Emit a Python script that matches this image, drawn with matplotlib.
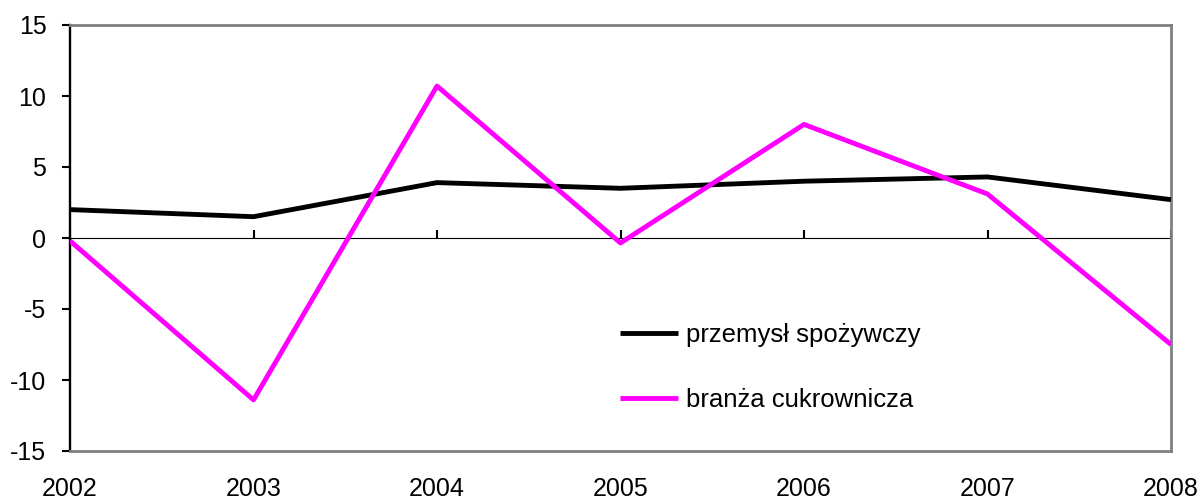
import matplotlib
matplotlib.use("Agg")
import matplotlib.pyplot as plt

years = ["2002", "2003", "2004", "2005", "2006", "2007", "2008"]
przemysl = [2.0, 1.5, 3.9, 3.5, 4.0, 4.3, 2.7]
cukrownicza = [-0.2, -11.4, 10.7, -0.35, 8.0, 3.1, -7.5]
yticks = [-15, -10, -5, 0, 5, 10, 15]

plt.rcParams['font.family'] = ['Liberation Sans', 'DejaVu Sans']

fig = plt.figure(figsize=(12.03, 5.01), dpi=100)
ax = fig.add_axes([70/1203, 50/501, 1101/1203, 426/501])
x = list(range(len(years)))

ax.plot(x, przemysl, color='black', lw=3.5, label='przemysł spożywczy', solid_capstyle='butt', zorder=3)
ax.plot(x, cukrownicza, color='#FF00FF', lw=3.5, label='branża cukrownicza', solid_capstyle='butt', zorder=3)

ax.set_xlim(0, len(years) - 1)
ax.set_ylim(-15, 15)
ax.set_yticks(yticks)
ax.set_yticklabels([str(v) for v in yticks])
ax.tick_params(axis='y', direction='out', length=6, width=1.5, color='black', labelsize=18, pad=11)

ax.set_xticks(x)
ax.set_xticklabels(years)
ax.tick_params(axis='x', length=0, labelsize=18, pad=19)

for s in ['top', 'right', 'bottom']:
    ax.spines[s].set_color('#808080')
    ax.spines[s].set_linewidth(2)
ax.spines['left'].set_color('black')
ax.spines['left'].set_linewidth(1.7)

sec = ax.secondary_xaxis(0.5)
sec.set_xticks(x)
sec.set_xticklabels([])
sec.tick_params(direction='out', length=5.5, width=1.5, color='black')
sec.spines['bottom'].set_color('black')
sec.spines['bottom'].set_linewidth(1.5)

fig.legend(loc='center left', bbox_to_anchor=(620/1203, 1 - 367.5/501), frameon=False,
           fontsize=18.5, handlelength=2.25, handletextpad=0.3, labelspacing=1.6,
           borderpad=0, borderaxespad=0)

fig.savefig('out.png', dpi=100)
